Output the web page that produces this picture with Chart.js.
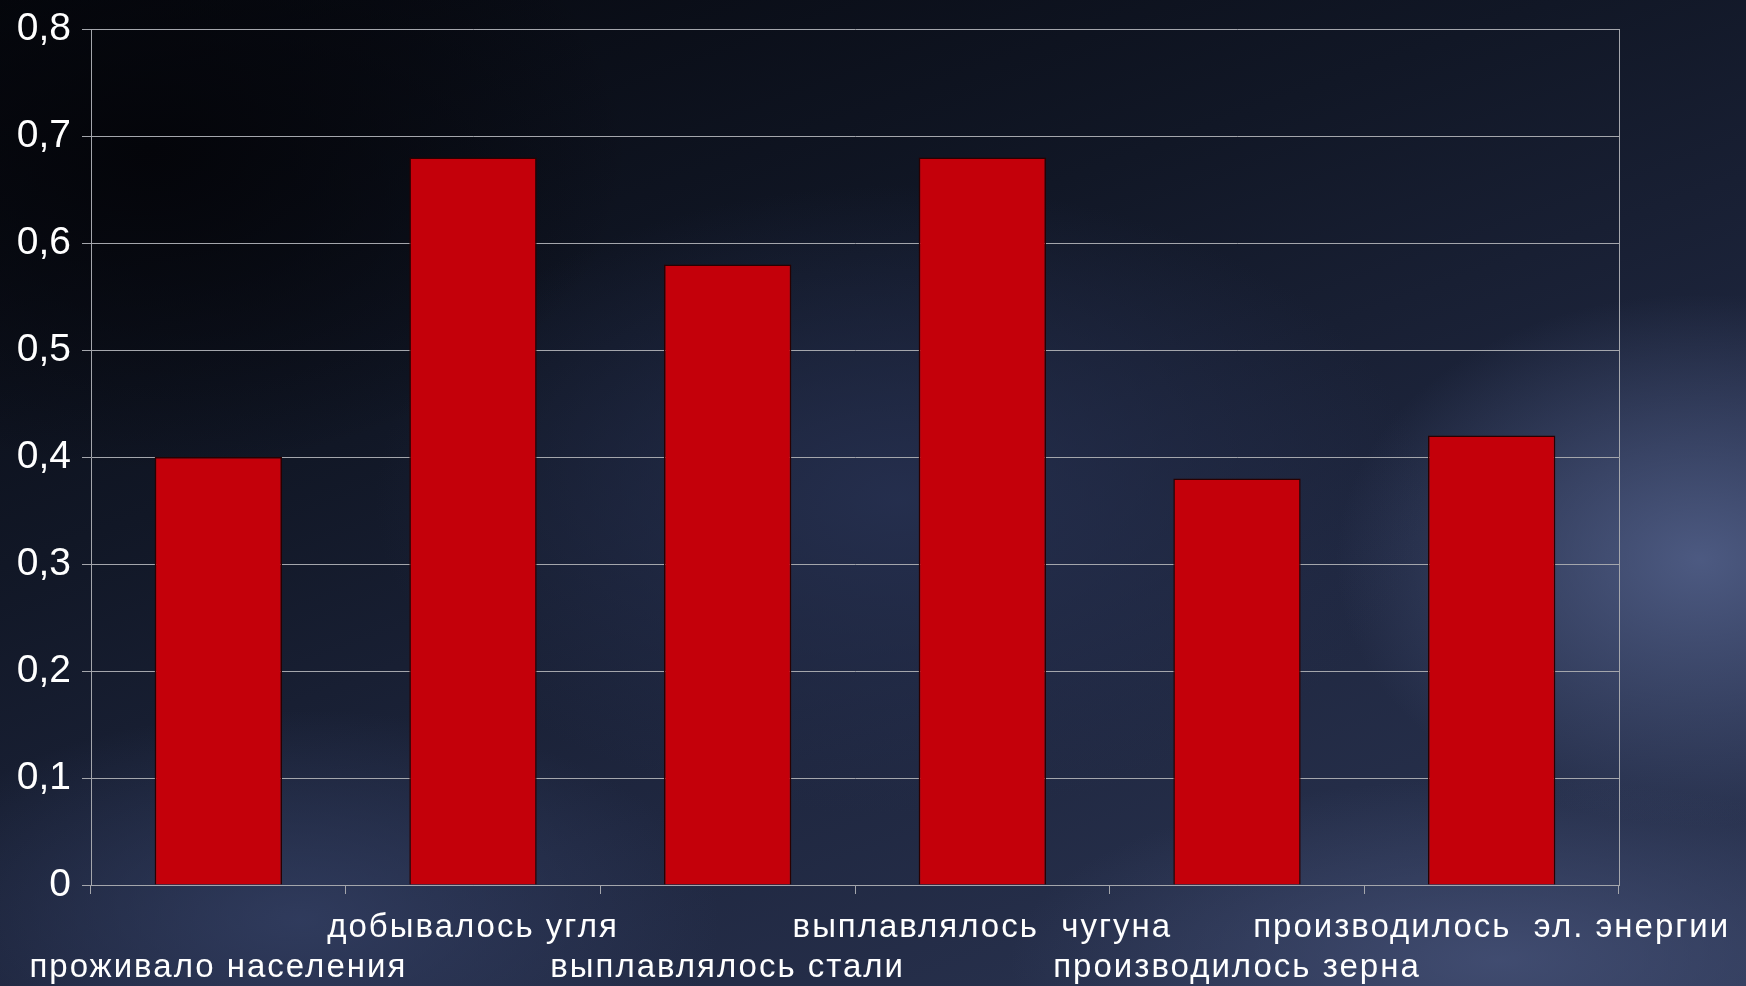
<!DOCTYPE html>
<html>
<head>
<meta charset="utf-8">
<script src="https://cdn.jsdelivr.net/npm/chart.js@4/dist/chart.umd.min.js"></script>
<style>
    html, body { margin: 0; padding: 0; overflow: hidden; }
    body {
        width: 1746px;
        height: 986px;
        background:
            radial-gradient(ellipse 520px 380px at 1700px 560px, rgba(84, 98, 140, 0.85), rgba(84, 98, 140, 0) 70%),
            radial-gradient(ellipse 700px 260px at 1500px 960px, rgba(70, 82, 120, 0.8), rgba(70, 82, 120, 0) 70%),
            radial-gradient(ellipse 600px 300px at 300px 920px, rgba(52, 64, 100, 0.8), rgba(52, 64, 100, 0) 70%),
            radial-gradient(ellipse 700px 420px at 900px 500px, rgba(38, 48, 80, 0.9), rgba(38, 48, 80, 0) 75%),
            radial-gradient(ellipse 600px 400px at 150px 150px, rgba(4, 5, 10, 1), rgba(4, 5, 10, 0) 80%),
            linear-gradient(160deg, #05070d 0%, #111726 35%, #1f2740 65%, #2c3654 100%);
    }
    .chart-wrap { position: absolute; left: 0; top: 0; width: 1746px; height: 986px; }
</style>
</head>
<body>
<div class="chart-wrap">
    <canvas id="sovietChart"></canvas>
</div>
<script>
// values
const categories = [
    'проживало населения',
    'добывалось угля',
    'выплавлялось стали',
    'выплавлялось  чугуна',
    'производилось зерна',
    'производилось  эл. энергии'
];
const shares = [0.40, 0.68, 0.58, 0.68, 0.38, 0.42];
const yTicks = [0, 0.1, 0.2, 0.3, 0.4, 0.5, 0.6, 0.7, 0.8];

const GRID = '#a4a6ac';
const X_SPACING = '2px';

// excel-style staggered labels: every other label on the second line
const labels = categories.map((c, i) => i % 2 ? [c, ''] : ['', c]);

// slightly spaced lettering for the category labels only
const spacingPlugin = {
    id: 'labelSpacing',
    beforeDraw(chart) { chart.ctx.letterSpacing = '0px'; },
    afterDatasetsDraw(chart) { chart.ctx.letterSpacing = X_SPACING; },
    afterDraw(chart) { chart.ctx.letterSpacing = '0px'; }
};

const ctx = document.getElementById('sovietChart').getContext('2d');

new Chart(ctx, {
    type: 'bar',
    data: {
        labels: labels,
        datasets: [{
            data: shares,
            backgroundColor: '#c4000a',
            borderColor: '#2a0000',
            borderWidth: 1.5,
            categoryPercentage: 1,
            barPercentage: 0.5
        }]
    },
    options: {
        responsive: true,
        maintainAspectRatio: false,
        animation: false,
        layout: { padding: { top: 29, right: 127, left: 0, bottom: 0 } },
        plugins: {
            legend: { display: false },
            tooltip: { enabled: false }
        },
        scales: {
            x: {
                offset: true,
                grid: { offset: true, drawOnChartArea: false, color: GRID, tickLength: 9, lineWidth: 1 },
                border: { color: GRID, width: 1 },
                ticks: {
                    color: '#ffffff',
                    padding: 14,
                    z: 1,
                    maxRotation: 0,
                    autoSkip: false,
                    font: { family: '"Liberation Sans", Arial, sans-serif', size: 33, lineHeight: 1.21 }
                },
                afterFit: (scale) => { scale.height = 101; }
            },
            y: {
                min: 0,
                max: 0.8,
                grid: { color: GRID, tickLength: 9, lineWidth: 1 },
                border: { color: GRID, width: 1 },
                afterBuildTicks: (scale) => { scale.ticks = yTicks.map(v => ({ value: v })); },
                ticks: {
                    color: '#ffffff',
                    padding: 11,
                    font: { family: '"Liberation Sans", Arial, sans-serif', size: 39 },
                    callback: (v) => v === 0 ? '0' : v.toFixed(1).replace('.', ',')
                },
                afterFit: (scale) => {
                    scale.width = 91;
                    scale.paddingTop = 0;
                    scale.paddingBottom = 0;
                }
            },
            frame: {
                position: 'right',
                display: true,
                grid: { drawOnChartArea: false, drawTicks: false },
                border: { color: GRID, width: 1 },
                ticks: { display: false },
                afterFit: (scale) => { scale.width = 0; }
            }
        }
    },
    plugins: [spacingPlugin]
});
</script>
</body>
</html>
